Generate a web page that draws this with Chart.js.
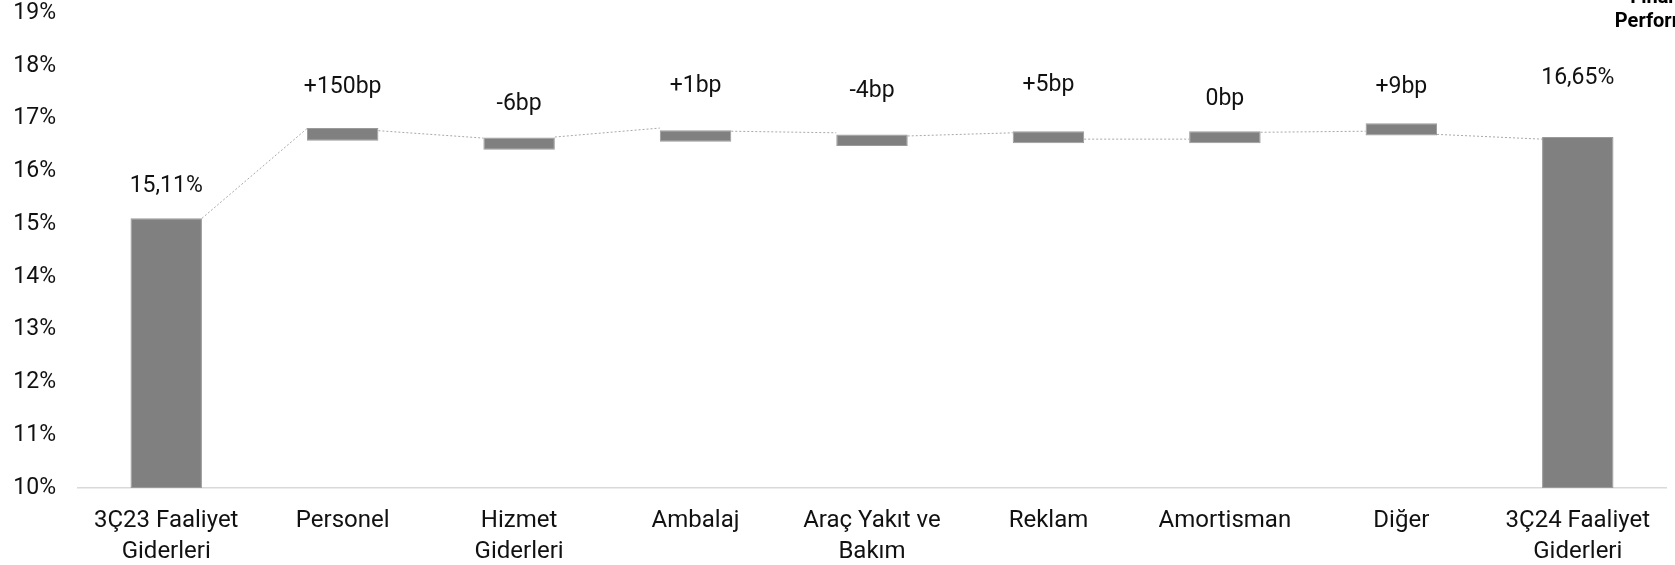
<!DOCTYPE html>
<html>
<head>
<meta charset="utf-8">
<script src="https://cdn.jsdelivr.net/npm/chart.js@4.4.1/dist/chart.umd.min.js"></script>
<style>
  body { margin: 0; background: #fff; }
  #wrap { width: 1675px; height: 565px; }
</style>
</head>
<body>
<div id="wrap"><canvas id="chart" width="1675" height="565"></canvas></div>
<script>
// Waterfall data (values in %)
const categories = [
    ['3Ç23 Faaliyet', 'Giderleri'],
    'Personel',
    ['Hizmet', 'Giderleri'],
    'Ambalaj',
    ['Araç Yakıt ve', 'Bakım'],
    'Reklam',
    'Amortisman',
    'Diğer',
    ['3Ç24 Faaliyet', 'Giderleri']
];
const barLow = [10, 16.58, 16.41, 16.56, 16.48, 16.53, 16.53, 16.68, 10];
const barHigh = [15.11, 16.82, 16.64, 16.78, 16.70, 16.76, 16.76, 16.91, 16.65];
const barLabels = ['15,11%', '+150bp', '-6bp', '+1bp', '-4bp', '+5bp', '0bp', '+9bp', '16,65%'];

// dotted connectors: value where the line leaves bar i and where it reaches bar i+1
const connFrom = [15.11, 16.77, 16.65, 16.76, 16.67, 16.61, 16.74, 16.70];
const connTo = [16.81, 16.63, 16.82, 16.73, 16.73, 16.61, 16.76, 16.61];

const yTicks = [10, 11, 12, 13, 14, 15, 16, 17, 18, 19];

// label distance above bar top (px, to baseline)
const labelGap = [26, 35, 28, 38, 37, 40, 26, 30, 53];

const FONT = 'Roboto, "Noto Sans", sans-serif';
const barPct = 0.405;
const half = barPct / 2;

// build connector points with gaps between segments
const connPoints = [];
for (let i = 0; i < connFrom.length; i++) {
    connPoints.push({ x: i + half, y: connFrom[i] });
    connPoints.push({ x: i + 1 - half, y: connTo[i] });
    connPoints.push({ x: i + 1, y: null });
}

const barLabelPlugin = {
    id: 'barLabels',
    afterDatasetsDraw(chart) {
        const ctx = chart.ctx;
        const meta = chart.getDatasetMeta(0);
        ctx.save();
        ctx.font = '23px ' + FONT;
        ctx.fillStyle = '#111';
        ctx.textAlign = 'center';
        ctx.textBaseline = 'alphabetic';
        meta.data.forEach((bar, i) => {
            ctx.fillText(barLabels[i], bar.x, bar.y - labelGap[i]);
        });
        ctx.restore();
    }
};

// clipped header in the top right corner
const headerPlugin = {
    id: 'header',
    afterDraw(chart) {
        const ctx = chart.ctx;
        ctx.save();
        ctx.font = 'bold 20px ' + FONT;
        ctx.fillStyle = '#000';
        ctx.textAlign = 'center';
        ctx.textBaseline = 'alphabetic';
        ctx.fillText('Finansal', 1668, 3);
        ctx.fillText('Performans', 1668, 27);
        ctx.restore();
    }
};

new Chart(document.getElementById('chart'), {
    type: 'bar',
    data: {
        labels: categories,
        datasets: [
            {
                label: 'Faaliyet Giderleri',
                data: barLow.map((v, i) => [v, barHigh[i]]),
                backgroundColor: '#808080',
                borderColor: '#9a9a9a',
                borderWidth: 1,
                borderSkipped: false,
                barPercentage: barPct,
                categoryPercentage: 1,
                grouped: false,
                order: 1
            },
            {
                type: 'line',
                label: 'connector',
                data: connPoints,
                xAxisID: 'xl',
                borderColor: '#a8a8a8',
                borderWidth: 1,
                borderDash: [2, 2],
                pointRadius: 0,
                spanGaps: false,
                fill: false,
                order: 0
            }
        ]
    },
    options: {
        responsive: false,
        devicePixelRatio: 1,
        animation: false,
        layout: { padding: { top: 13, right: 9, left: 0, bottom: 0 } },
        plugins: {
            legend: { display: false },
            tooltip: { enabled: false }
        },
        scales: {
            x: {
                offset: true,
                grid: { display: false, drawTicks: false },
                border: { display: true, color: '#d9d9d9', width: 1.5 },
                ticks: {
                    color: '#111',
                    font: { family: FONT, size: 24, lineHeight: 1.3 },
                    padding: 17,
                    maxRotation: 0,
                    autoSkip: false
                },
                afterFit(scale) { scale.height = 77; }
            },
            xl: {
                type: 'linear',
                display: false,
                offset: false,
                min: -0.5,
                max: 8.5
            },
            y: {
                min: yTicks[0],
                max: yTicks[yTicks.length - 1],
                grid: { display: false, drawTicks: false },
                border: { display: false },
                afterBuildTicks(scale) {
                    scale.ticks = yTicks.map(v => ({ value: v }));
                },
                ticks: {
                    color: '#111',
                    font: { family: FONT, size: 23 },
                    padding: 22,
                    callback: v => v + '%'
                },
                afterFit(scale) {
                    scale.width = 78;
                    scale.paddingTop = 0;
                    scale.paddingBottom = 0;
                }
            }
        }
    },
    plugins: [barLabelPlugin, headerPlugin]
});
</script>
</body>
</html>
